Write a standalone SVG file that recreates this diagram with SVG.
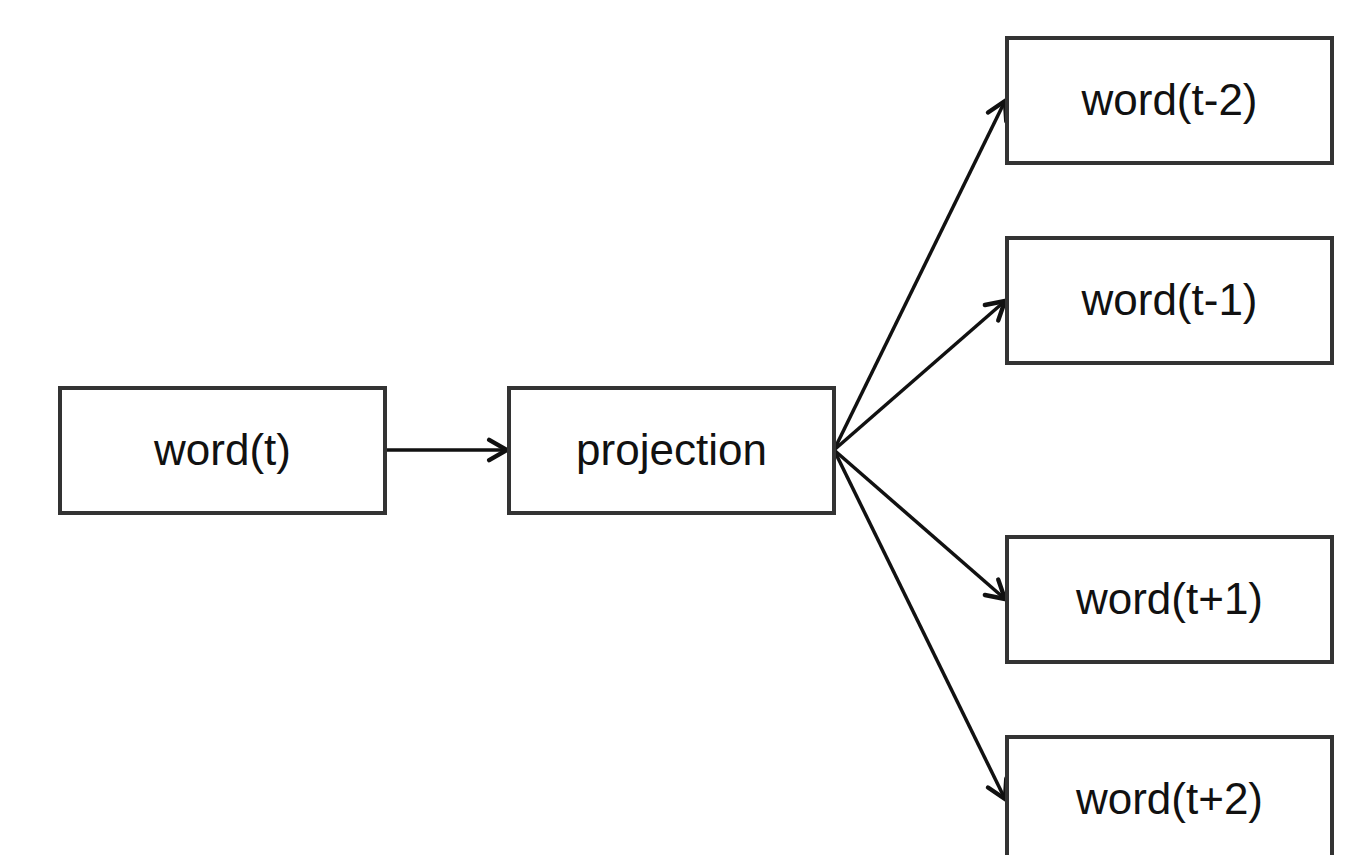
<svg xmlns="http://www.w3.org/2000/svg" width="1367" height="855" viewBox="0 0 1367 855">
<style>
.box{fill:#ffffff;stroke:#333333;stroke-width:4}
.lbl{font-family:"Liberation Sans",Arial,sans-serif;font-size:44px;fill:#111111;text-anchor:middle}
.edge{stroke:#111111;stroke-width:3.5;fill:none;marker-end:url(#arr)}
</style>
<defs>
<marker id="arr" markerWidth="14" markerHeight="14" refX="10" refY="5" orient="auto" markerUnits="userSpaceOnUse" viewBox="0 0 11 10" overflow="visible">
<path d="M-4,-3 L10,5 L-4,13" fill="none" stroke="#111111" stroke-width="3.5" stroke-linecap="round" stroke-linejoin="miter"/>
</marker>
</defs>
<rect width="1367" height="855" fill="#ffffff"/>
<g id="connectors">
<line class="edge" x1="385" y1="450" x2="507" y2="450"/>
<line class="edge" x1="834" y1="450" x2="1005" y2="101"/>
<line class="edge" x1="834" y1="450" x2="1005" y2="301"/>
<line class="edge" x1="834" y1="450" x2="1005" y2="599"/>
<line class="edge" x1="834" y1="450" x2="1005" y2="799"/>
</g>
<g id="word-t"><rect class="box" x="60" y="388" width="325" height="125"/><text class="lbl" x="222.5" y="465">word(t)</text></g>
<g id="projection"><rect class="box" x="509" y="388" width="325" height="125"/><text class="lbl" x="671.5" y="465">projection</text></g>
<g id="word-t-2"><rect class="box" x="1007" y="38" width="325" height="125"/><text class="lbl" x="1169.5" y="115">word(t-2)</text></g>
<g id="word-t-1"><rect class="box" x="1007" y="238" width="325" height="125"/><text class="lbl" x="1169.5" y="315">word(t-1)</text></g>
<g id="word-t+1"><rect class="box" x="1007" y="537" width="325" height="125"/><text class="lbl" x="1169.5" y="614">word(t+1)</text></g>
<g id="word-t+2"><rect class="box" x="1007" y="737" width="325" height="125"/><text class="lbl" x="1169.5" y="814">word(t+2)</text></g>
</svg>
